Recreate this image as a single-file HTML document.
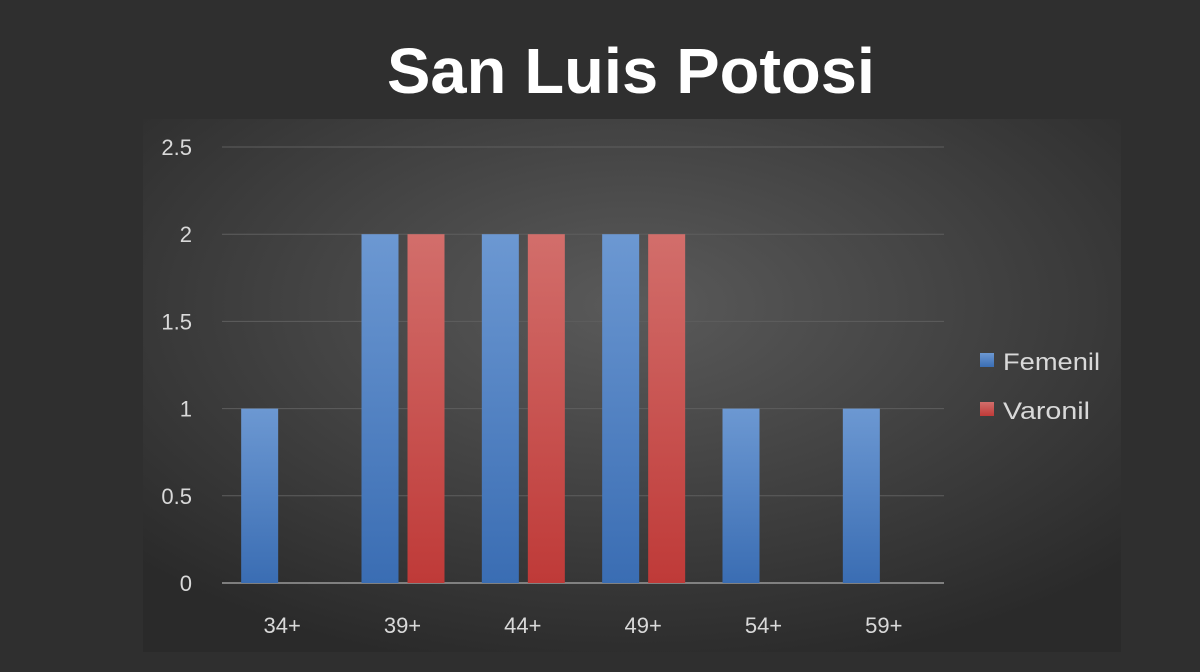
<!DOCTYPE html>
<html><head><meta charset="utf-8">
<style>
html,body{margin:0;padding:0;background:#2f2f2f;width:1200px;height:672px;overflow:hidden;}
svg{display:block;font-family:"Liberation Sans",sans-serif;}
</style></head>
<body>
<svg id="chart" width="1200" height="672">
<defs>
<radialGradient id="bg" cx="0.5" cy="0.35" r="0.7">
<stop offset="0" stop-color="#5a5a5a"/><stop offset="1" stop-color="#2a2a2a"/>
</radialGradient>
<linearGradient id="gb" x1="0" y1="0" x2="0" y2="1"><stop offset="0" stop-color="#6c98d2"/><stop offset="1" stop-color="#3a6db3"/></linearGradient>
<linearGradient id="gr" x1="0" y1="0" x2="0" y2="1"><stop offset="0" stop-color="#d26e6b"/><stop offset="1" stop-color="#bf3a38"/></linearGradient>
</defs>
<rect x="143" y="119" width="978" height="533" fill="url(#bg)"/>
<text x="631" y="93" text-anchor="middle" fill="#fff" font-size="64" font-weight="bold" textLength="488" lengthAdjust="spacingAndGlyphs">San Luis Potosi</text>
<g id="grid"></g><g id="bars"></g><g id="labels"></g>
<g>
<rect x="980" y="353" width="14" height="14" fill="url(#gb)"/>
<text x="1003" y="370" fill="#d9d9d9" font-size="24" textLength="97" lengthAdjust="spacingAndGlyphs">Femenil</text>
<rect x="980" y="402" width="14" height="14" fill="url(#gr)"/>
<text x="1003" y="419" fill="#d9d9d9" font-size="24" textLength="87" lengthAdjust="spacingAndGlyphs">Varonil</text>
</g>
</svg>
<script>
const categories=["34+","39+","44+","49+","54+","59+"];
const femenil=[1,2,2,2,1,1];
const varonil=[0,2,2,2,0,0];
const yTicks=[0,0.5,1,1.5,2,2.5];
const yTickLabels=["0","0.5","1","1.5","2","2.5"];
const NS="http://www.w3.org/2000/svg";
const x0=222,x1=944,yBase=583,yTop=147,yMax=2.5;
const y=v=>yBase-(v/yMax)*(yBase-yTop);
const bw=(x1-x0)/categories.length;
const cx=i=>x0+bw*(i+0.5);
function mk(tag,attrs,parent){const e=document.createElementNS(NS,tag);for(const k in attrs)e.setAttribute(k,attrs[k]);document.getElementById(parent).appendChild(e);return e;}
yTicks.forEach((t,i)=>{
 const l=mk("line",{x1:x0,x2:x1,y1:y(t),y2:y(t),stroke:i===0?"#9a9a9a":"#5e5e5e","stroke-width":i===0?1.5:1},"grid");
 
 
 const tx=mk("text",{x:192,y:y(t)+8,"text-anchor":"end",fill:"#d9d9d9","font-size":22},"labels");
 tx.textContent=yTickLabels[i];
 
 
});
categories.forEach((c,i)=>{
 const c0=cx(i);
 if(femenil[i]>0){const r=mk("rect",{x:c0-41,y:y(femenil[i]),width:37,height:yBase-y(femenil[i]),fill:"url(#gb)"},"bars");
 
 }
 if(varonil[i]>0){const r=mk("rect",{x:c0+5,y:y(varonil[i]),width:37,height:yBase-y(varonil[i]),fill:"url(#gr)"},"bars");
 
 }
 const t=mk("text",{x:c0,y:633,"text-anchor":"middle",fill:"#d9d9d9","font-size":22},"labels");
 t.textContent=c;
 
 
});
</script>
</body></html>
